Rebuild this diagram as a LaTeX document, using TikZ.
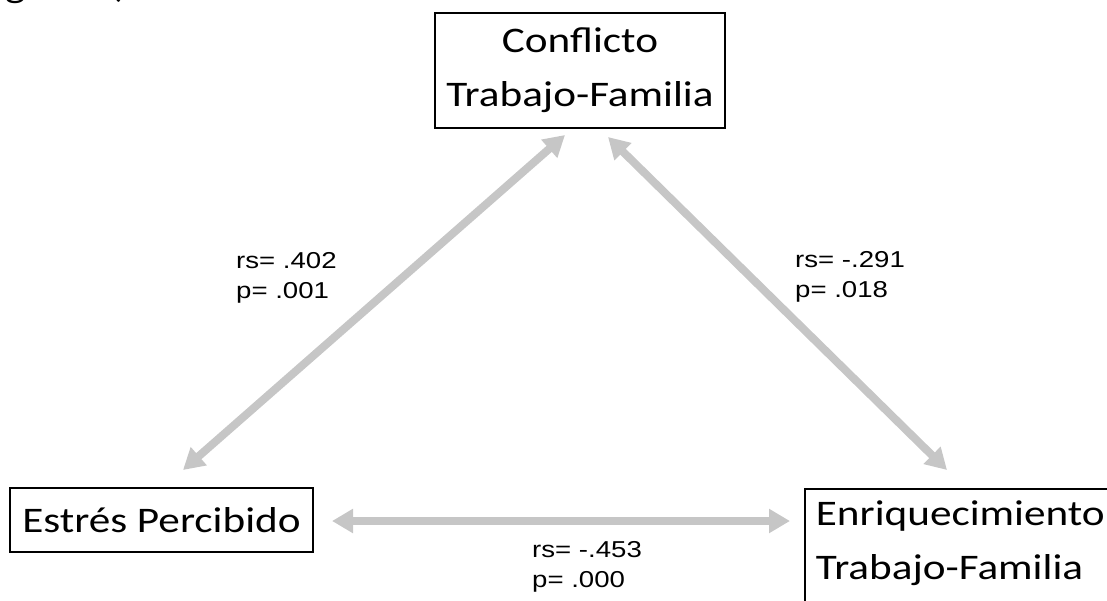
\documentclass[tikz,border=0pt]{standalone}
\usepackage{fontspec}
\setmainfont{Carlito}[FakeStretch=1.2]
\newfontfamily\statfont{Liberation Sans}[FakeStretch=1.2]
\usetikzlibrary{arrows.meta}
\definecolor{linkgray}{HTML}{C6C6C6}
\tikzset{
  varbox/.style={draw=black, line width=1.8pt, inner sep=0pt,
    font=\fontsize{36}{54}\selectfont, align=center},
  corr/.style={draw=linkgray, line width=8pt,
    {Triangle[width=23pt,length=21pt]}-{Triangle[width=23pt,length=21pt]}},
  stat/.style={font=\statfont\fontsize{23}{30}\selectfont, align=left,
    inner sep=0pt, anchor=base west},
}
\begin{document}
\begin{tikzpicture}[x=1pt,y=-1pt]
\useasboundingbox (0,0) rectangle (1107,600);
\clip (0,0) rectangle (1107,600);

% caption line running in from above
\node[font=\fontsize{36}{54}\selectfont, anchor=base east, inner sep=0pt] (fig) at (128,-3) {Figura 1)};

% variables
\node[varbox, minimum width=290pt, minimum height=115pt] (ctf) at (580,70.5)
  {Conflicto\\Trabajo-Familia};
\node[varbox, minimum width=303pt, minimum height=64pt] (ep) at (161.5,520)
  {Estrés Percibido};
\node[varbox, anchor=north west, align=left, inner xsep=11pt, text width=300pt] (etf) at (804,488)
  {\rule{0pt}{37pt}Enriquecimiento\\Trabajo-Familia\rule[-45pt]{0pt}{0pt}};

% correlation arrows
\coordinate (l1) at (183,470);
\coordinate (l2) at (565,135);
\coordinate (r1) at (608,137);
\coordinate (r2) at (947,470);
\coordinate (h1) at (332,521);
\coordinate (h2) at (790,521);
\draw[corr] (l1) -- (l2);
\draw[corr] (r1) -- (r2);
\draw[corr] (h1) -- (h2);

% coefficients (anchored on the baseline of the lower line)
\node[stat] (sl) at (236,298) {rs= .402\\p= .001};
\node[stat] (sr) at (795,297) {rs= -.291\\p= .018};
\node[stat] (sh) at (532,587) {rs= -.453\\p= .000};
\end{tikzpicture}
\end{document}
